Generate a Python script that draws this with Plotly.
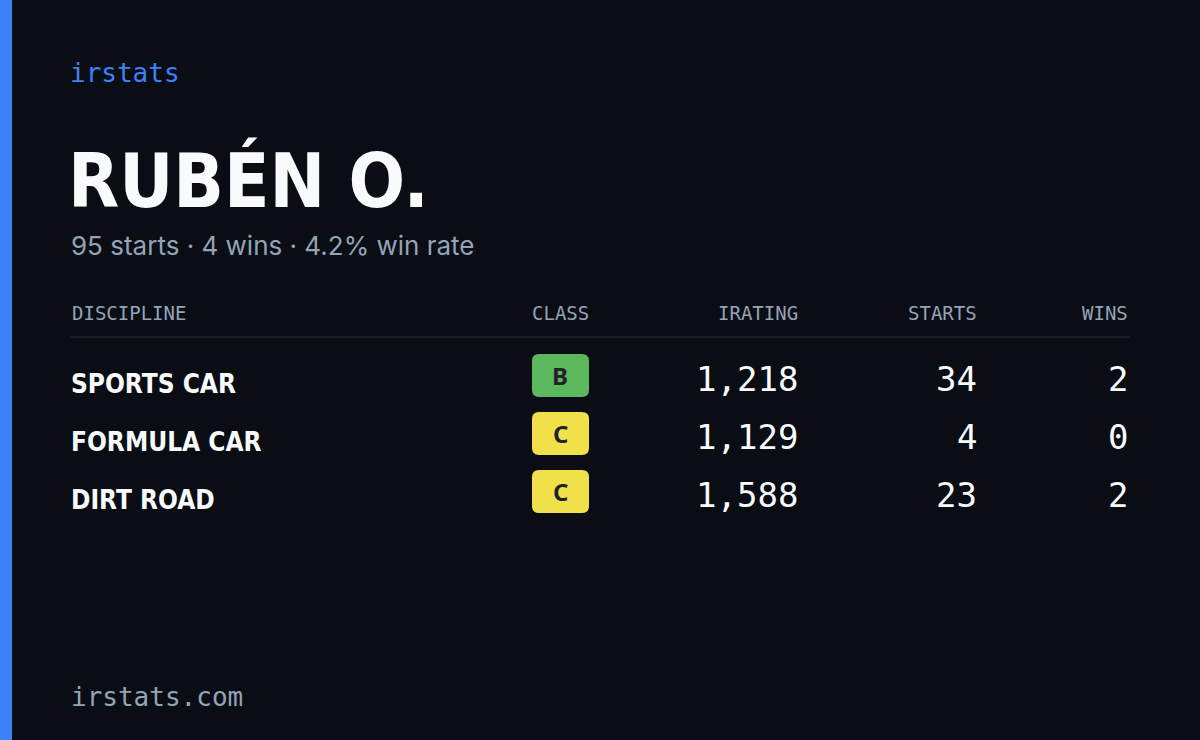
import plotly.graph_objects as go

player = "RUBÉN O."
summary = "95 starts · 4 wins · 4.2% win rate"
headers = ["DISCIPLINE", "CLASS", "IRATING", "STARTS", "WINS"]
disciplines = ["SPORTS CAR", "FORMULA CAR", "DIRT ROAD"]
classes = ["B", "C", "C"]
iratings = [1218, 1129, 1588]
starts = [34, 4, 23]
wins = [2, 0, 2]

BG = "#0a0d14"
BLUE = "#3b82f6"
MUTED = "#94a3b8"
MONO = "DejaVu Sans Mono"
COND = "DejaVu Sans Condensed"
class_colors = {"B": "#5cb85c", "C": "#f0e14a"}

fig = go.Figure()
shapes = []
ann = []

def text(x, y, s, size, color, font, anchor="left", bold=False):
    ann.append(dict(x=x, y=y, text=f"<b>{s}</b>" if bold else s, showarrow=False,
                    xanchor=anchor, yanchor="middle",
                    font=dict(size=size, color=color, family=font)))

def rrect(x0, y0, x1, y1, r, color):
    p = (f"M{x0+r},{y0} L{x1-r},{y0} Q{x1},{y0} {x1},{y0+r} L{x1},{y1-r} Q{x1},{y1} {x1-r},{y1} "
         f"L{x0+r},{y1} Q{x0},{y1} {x0},{y1-r} L{x0},{y0+r} Q{x0},{y0} {x0+r},{y0} Z")
    shapes.append(dict(type="path", path=p, fillcolor=color, line=dict(width=0), layer="below"))

# left accent bar
shapes.append(dict(type="rect", x0=0, x1=12, y0=0, y1=740, fillcolor=BLUE, line=dict(width=0)))

text(68, 73, "irstats", 26, BLUE, MONO)
text(66, 180, player, 74, "#f8fafc", COND, bold=True)
text(69, 245, summary, 26, MUTED, "Inter")

col_x = [70, 560, 800, 979, 1130]
col_anchor = ["left", "center", "right", "right", "right"]
for h, x, a in zip(headers, col_x, col_anchor):
    text(x, 313, h, 19, MUTED, MONO, a)
shapes.append(dict(type="line", x0=70, x1=1130, y0=337, y1=337, line=dict(color="#1e2330", width=1.5)))

for i, name in enumerate(disciplines):
    y = 379 + i * 58
    text(69, y + 5, name, 26, "#f8fafc", COND, bold=True)
    rrect(532, y - 25, 589, y + 18, 7, class_colors[classes[i]])
    text(560, y - 4, classes[i], 24, "#1f2328", "Noto Sans", "center", bold=True)
    text(800, y, f"{iratings[i]:,}", 34, "#f8fafc", MONO, "right")
    text(979, y, str(starts[i]), 34, "#f8fafc", MONO, "right")
    text(1130, y, str(wins[i]), 34, "#f8fafc", MONO, "right")

text(69, 697, "irstats.com", 26, MUTED, MONO)

fig.update_layout(
    width=1200, height=740, margin=dict(l=0, r=0, t=0, b=0),
    paper_bgcolor=BG, plot_bgcolor=BG, showlegend=False,
    xaxis=dict(range=[0, 1200], visible=False, fixedrange=True),
    yaxis=dict(range=[740, 0], visible=False, fixedrange=True),
    shapes=shapes, annotations=ann,
)
fig.write_html("out.html", config={"displayModeBar": False})

# drop the default page margin so the card sits flush in the window
with open("out.html", encoding="utf-8") as f:
    html = f.read()
html = html.replace("<body>", f'<body style="margin:0;background:{BG}">', 1)
with open("out.html", "w", encoding="utf-8") as f:
    f.write(html)
